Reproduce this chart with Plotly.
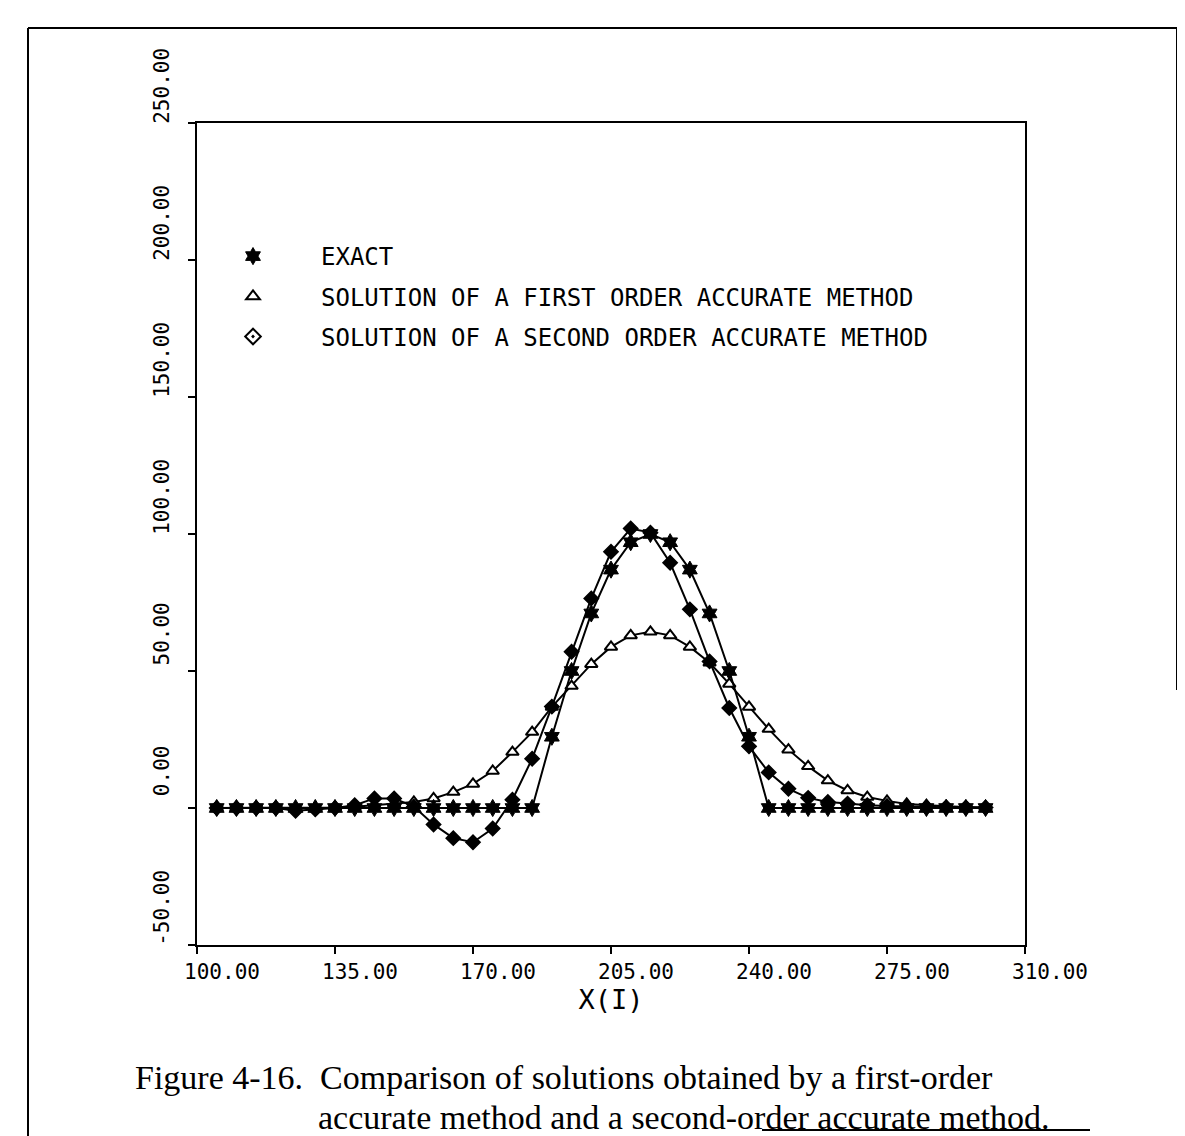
import plotly.graph_objects as go

# ---- data ----
x_vals = [105, 110, 115, 120, 125, 130, 135, 140, 145, 150,
          155, 160, 165, 170, 175, 180, 185, 190, 195, 200,
          205, 210, 215, 220, 225, 230, 235, 240, 245, 250,
          255, 260, 265, 270, 275, 280, 285, 290, 295, 300]

exact = [0, 0, 0, 0, 0, 0, 0, 0, 0, 0,
         0, 0, 0, 0, 0, 0, 0, 26, 50, 71,
         87, 97, 100, 97, 87, 71, 50, 26, 0, 0,
         0, 0, 0, 0, 0, 0, 0, 0, 0, 0]

first_order = [0, 0, 0, 0, 0, 0, 0.2, 0.5, 1.0, 1.5,
               2.2, 3.5, 5.8, 8.8, 13.5, 20.4, 27.7, 36.9, 44.5, 52.5,
               58.8, 63.0, 64.3, 63.0, 58.8, 53.0, 45.3, 36.9, 28.8, 21.3,
               15.2, 10.0, 6.4, 4.0, 2.6, 1.5, 1.0, 0.6, 0.4, 0.2]

second_order = [0, 0, 0, 0, -1.0, -0.5, 0, 1.0, 3.5, 3.5,
                0.5, -6.0, -11.0, -12.5, -7.5, 3.0, 18.0, 37.0, 57.0, 76.5,
                93.5, 102.0, 100.5, 89.5, 72.5, 53.5, 36.5, 22.5, 13.0, 7.0,
                3.7, 2.2, 1.6, 1.0, 0.7, 0.5, 0.3, 0.3, 0.2, 0.2]

series_names = ["EXACT",
                "SOLUTION OF A FIRST ORDER ACCURATE METHOD",
                "SOLUTION OF A SECOND ORDER ACCURATE METHOD"]

x_ticks = [100, 135, 170, 205, 240, 275, 310]
y_ticks = [-50, 0, 50, 100, 150, 200, 250]
x_ticktext = ["100.00", "135.00", "170.00", "205.00", "240.00", "275.00", "310.00"]
y_ticktext = ["-50.00", "0.00", "50.00", "100.00", "150.00", "200.00", "250.00"]

x_title = "X(I)"
caption_line1 = "Figure 4-16.  Comparison of solutions obtained by a first-order"
caption_line2 = "accurate method and a second-order accurate method."

# ---- figure geometry (page body has an 8px margin) ----
OFF = 8
W, H = 1185 - OFF, 1136 - OFF
L, T = 197 - OFF, 123 - OFF
R = W - (1025 - OFF)
B = H - (945 - OFF)
pw, ph = W - L - R, H - T - B


def px_to_paper_x(px):
    return (px - OFF - L) / pw


def px_to_paper_y(py):
    return (H - B - (py - OFF)) / ph


MONO = "DejaVu Sans Mono"
fig = go.Figure()

line_style = dict(color="black", width=2)

fig.add_trace(go.Scatter(
    x=x_vals, y=first_order, mode="lines+markers", showlegend=False,
    line=line_style,
    marker=dict(symbol="triangle-up", size=11, color="white",
                line=dict(color="black", width=2))))
fig.add_trace(go.Scatter(
    x=x_vals, y=second_order, mode="lines+markers", showlegend=False,
    line=line_style,
    marker=dict(symbol="diamond-dot", size=11, color="black",
                line=dict(color="black", width=1.5))))
fig.add_trace(go.Scatter(
    x=x_vals, y=exact, mode="lines+markers", showlegend=False,
    line=line_style,
    marker=dict(symbol="hexagram", size=13, color="black",
                line=dict(color="black", width=1))))

# legend-only entries (markers only, like the reference key)
legend_symbols = [
    dict(symbol="hexagram", size=13, color="black", line=dict(color="black", width=1)),
    dict(symbol="triangle-up-open", size=12, color="black", line=dict(color="black", width=2)),
    dict(symbol="diamond-open-dot", size=12, color="black", line=dict(color="black", width=2)),
]
for i, (nm, mk) in enumerate(zip(series_names, legend_symbols)):
    fig.add_trace(go.Scatter(x=[None], y=[None], mode="markers", name=nm,
                             marker=mk, legendgroup=f"g{i}", showlegend=True))

axis_common = dict(
    showline=True, linecolor="black", linewidth=2, mirror=True,
    showgrid=False, zeroline=False,
    ticks="outside", ticklen=7, tickwidth=2, tickcolor="black",
    tickfont=dict(family=MONO, size=21, color="black"),
)

fig.update_xaxes(range=[100, 310], tickmode="array", tickvals=x_ticks,
                 ticktext=x_ticktext, ticklabelshift=25, ticklabelstandoff=0,
                 title=dict(text=x_title, font=dict(family=MONO, size=27, color="black"),
                            standoff=2),
                 **axis_common)
fig.update_yaxes(range=[-50, 250], tickmode="array", tickvals=y_ticks,
                 ticktext=y_ticktext, tickangle=-90, ticklabelshift=-34,
                 ticklabelstandoff=11, **axis_common)

fig.update_layout(
    width=W, height=H,
    margin=dict(l=L, r=R, t=T, b=B, pad=0),
    paper_bgcolor="white", plot_bgcolor="white",
    font=dict(family=MONO, color="black"),
    showlegend=True,
    legend=dict(x=px_to_paper_x(185), y=px_to_paper_y(234),
                xanchor="left", yanchor="top",
                bgcolor="rgba(0,0,0,0)", borderwidth=0,
                font=dict(family=MONO, size=24, color="black"),
                itemwidth=126, tracegroupgap=6, itemclick=False),
)

# caption
cap_font = dict(family="Liberation Serif", size=34, color="black")
fig.add_annotation(text=caption_line1, xref="paper", yref="paper",
                   x=px_to_paper_x(133), y=px_to_paper_y(1077),
                   xanchor="left", yanchor="middle", showarrow=False, font=cap_font)
fig.add_annotation(text=caption_line2, xref="paper", yref="paper",
                   x=px_to_paper_x(316), y=px_to_paper_y(1117),
                   xanchor="left", yanchor="middle", showarrow=False, font=cap_font)

# page frame lines of the scanned page
frame = dict(color="black", width=2)
fig.add_shape(type="line", xref="paper", yref="paper",
              x0=px_to_paper_x(28), x1=px_to_paper_x(28),
              y0=px_to_paper_y(28), y1=px_to_paper_y(1136), line=frame)
fig.add_shape(type="line", xref="paper", yref="paper",
              x0=px_to_paper_x(28), x1=px_to_paper_x(1177),
              y0=px_to_paper_y(28), y1=px_to_paper_y(28), line=frame)
fig.add_shape(type="line", xref="paper", yref="paper",
              x0=px_to_paper_x(1177), x1=px_to_paper_x(1177),
              y0=px_to_paper_y(28), y1=px_to_paper_y(690), line=frame)
fig.add_shape(type="line", xref="paper", yref="paper",
              x0=px_to_paper_x(762), x1=px_to_paper_x(1090),
              y0=px_to_paper_y(1130), y1=px_to_paper_y(1130), line=frame)

fig.write_html("out.html")
